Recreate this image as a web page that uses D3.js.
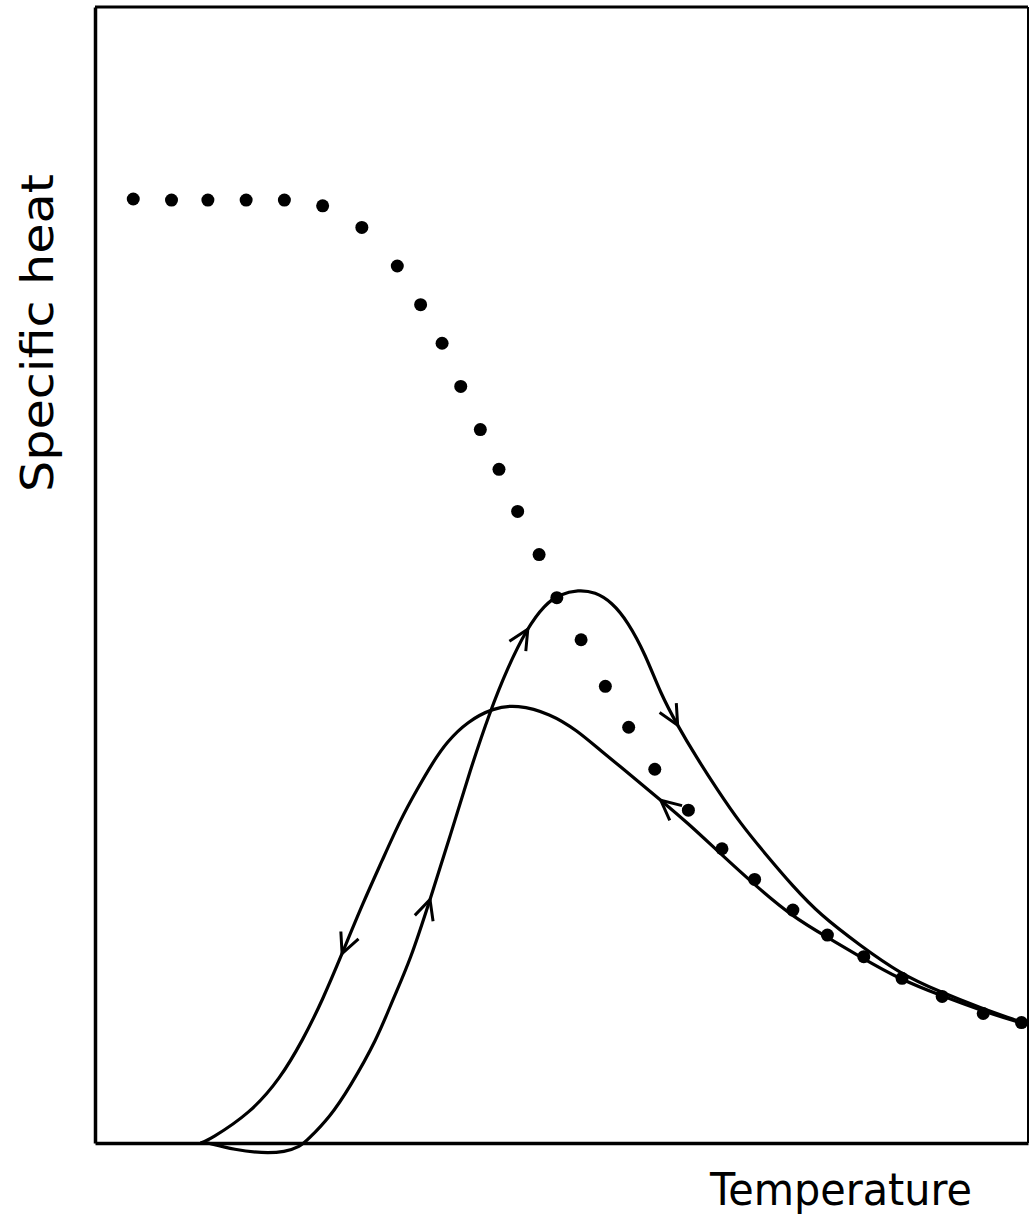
<!DOCTYPE html>
<html>
<head>
<meta charset="utf-8">
<script src="https://cdn.jsdelivr.net/npm/d3@7"></script>
<style>
  body { margin: 0; background: #fff; }
  svg { display: block; }
  .axis-label { font-family: "DejaVu Sans", sans-serif; font-size: 44px; fill: #000; }
</style>
</head>
<body>
<div id="chart"></div>
<script>
// Specific heat vs temperature: measured points plus heating / cooling loop

// measured points (temperature, specific heat), arbitrary units 0-100
const pointT = [4.1, 8.2, 12.1, 16.2, 20.3, 24.4, 28.6, 32.4, 34.9, 37.2, 39.2, 41.3, 43.3, 45.3, 47.6,
                49.5, 52.1, 54.7, 57.2, 60.0, 63.6, 67.2, 70.7, 74.8, 78.5, 82.4, 86.5, 90.8, 95.2, 99.3];
const pointC = [83.1, 83.0, 83.0, 83.0, 83.0, 82.5, 80.6, 77.2, 73.8, 70.4, 66.6, 62.8, 59.3, 55.6, 51.8,
                48.0, 44.3, 40.2, 36.6, 32.9, 29.3, 25.9, 23.2, 20.5, 18.3, 16.4, 14.5, 12.9, 11.4, 10.6];

// heating curve, in order of rising temperature
const heatT = [12.1, 15.0, 17.9, 20.4, 22.0, 22.7, 25.2, 27.3, 30.2, 31.9, 33.8, 35.9, 38.1, 40.2, 42.3,
               44.2, 46.3, 48.2, 49.8, 51.8, 53.6, 55.4, 57.1, 59.0, 60.6, 62.4, 64.5, 66.7, 69.1, 72.0,
               74.8, 77.7, 82.0, 86.3, 90.6, 94.9, 99.1, 100];
const heatC = [0, -0.6, -0.9, -0.8, -0.3, 0.2, 2.3, 4.9, 9.1, 12.6, 16.1, 21.4, 27.1, 32.8, 37.9,
               41.8, 45.3, 47.4, 48.3, 48.7, 48.5, 47.6, 45.9, 43.0, 39.6, 36.8, 33.9, 31.1, 28.2, 25.3,
               22.6, 20.1, 17.4, 14.9, 13.3, 11.9, 10.7, 10.4];

// cooling curve, in order of falling temperature
const coolT = [100, 99.1, 95.2, 90.6, 86.3, 82.0, 78.5, 74.8, 71.0, 67.0, 63.5, 60.6, 57.7, 54.1, 51.7,
               48.8, 45.2, 42.7, 39.9, 37.7, 36.2, 34.5, 32.7, 30.8, 28.7, 26.5, 24.4, 22.3, 19.8, 16.6,
               12.3, 11.3];
const coolC = [10.4, 10.6, 11.6, 13.0, 14.4, 16.4, 18.1, 19.9, 22.5, 25.5, 28.2, 30.2, 32.2, 34.6, 36.3,
               37.8, 38.6, 38.3, 37.1, 35.3, 33.5, 31.1, 28.4, 24.9, 21.1, 16.7, 12.6, 9.1, 5.6, 2.6,
               0.3, 0];

// indices on each curve where a direction arrow sits
const heatArrows = [11, 16, 25];
const coolArrows = [11, 25];

const WIDTH = 1036;
const HEIGHT = 1225;
const PLOT = { left: 95, right: 1028, top: 7, bottom: 1143 };

const svg = d3.select('#chart')
    .append('svg')
    .attr('width', WIDTH)
    .attr('height', HEIGHT);

const x = d3.scaleLinear().domain([0, 100]).range([PLOT.left, PLOT.right]);
const y = d3.scaleLinear().domain([0, 100]).range([PLOT.bottom, PLOT.top]);

const heat = heatT.map((t, i) => [t, heatC[i]]);
const cool = coolT.map((t, i) => [t, coolC[i]]);
const points = pointT.map((t, i) => [t, pointC[i]]);

// Frame (no ticks on the original)
svg.append('g')
    .attr('transform', `translate(0,${PLOT.bottom})`)
    .call(d3.axisBottom(x).ticks(0).tickSize(0))
    .call(g => g.select('.domain').attr('stroke-width', 3.5));

svg.append('g')
    .attr('transform', `translate(${PLOT.left},0)`)
    .call(d3.axisLeft(y).ticks(0).tickSize(0))
    .call(g => g.select('.domain').attr('stroke-width', 3.5));

svg.append('line')
    .attr('x1', PLOT.left).attr('x2', PLOT.right)
    .attr('y1', PLOT.top).attr('y2', PLOT.top)
    .attr('stroke', '#000').attr('stroke-width', 3);

svg.append('line')
    .attr('x1', PLOT.right).attr('x2', PLOT.right)
    .attr('y1', PLOT.top).attr('y2', PLOT.bottom)
    .attr('stroke', '#000').attr('stroke-width', 2);

// Curves (smoothed through the traced points)
const line = d3.line()
    .x(d => x(d[0]))
    .y(d => y(d[1]))
    .curve(d3.curveBasis);

function drawCurve(curve, arrowIdx) {
    const path = svg.append('path')
        .datum(curve)
        .attr('fill', 'none')
        .attr('stroke', '#000')
        .attr('stroke-width', 3.2)
        .attr('d', line);

    // open arrowheads, snapped to the drawn path, pointing along it
    const node = path.node();
    const total = node.getTotalLength();
    arrowIdx.forEach(i => {
        const tx = x(curve[i][0]), ty = y(curve[i][1]);
        let best = 0, bestD = Infinity;
        for (let l = 0; l <= total; l += 1) {
            const q = node.getPointAtLength(l);
            const d = (q.x - tx) ** 2 + (q.y - ty) ** 2;
            if (d < bestD) { bestD = d; best = l; }
        }
        const p = node.getPointAtLength(best);
        const a = node.getPointAtLength(Math.max(0, best - 4));
        const b = node.getPointAtLength(Math.min(total, best + 4));
        const ang = Math.atan2(b.y - a.y, b.x - a.x);
        const arm = 22;
        const spread = 0.45;
        const a1 = ang + Math.PI - spread;
        const a2 = ang + Math.PI + spread;
        svg.append('path')
            .attr('fill', 'none')
            .attr('stroke', '#000')
            .attr('stroke-width', 3)
            .attr('d', `M${p.x + arm * Math.cos(a1)},${p.y + arm * Math.sin(a1)} L${p.x},${p.y} L${p.x + arm * Math.cos(a2)},${p.y + arm * Math.sin(a2)}`);
    });
}
drawCurve(heat, heatArrows);
drawCurve(cool, coolArrows);

// Measured points
svg.append('g')
    .selectAll('circle')
    .data(points)
    .join('circle')
    .attr('cx', d => x(d[0]))
    .attr('cy', d => y(d[1]))
    .attr('r', 6.5)
    .attr('fill', '#000');

// Axis labels
svg.append('text')
    .attr('class', 'axis-label')
    .attr('x', 841)
    .attr('y', 1205)
    .attr('text-anchor', 'middle')
    .attr('textLength', 262)
    .attr('lengthAdjust', 'spacingAndGlyphs')
    .text('Temperature');

svg.append('text')
    .attr('class', 'axis-label')
    .attr('transform', 'translate(53,333) rotate(-90)')
    .attr('text-anchor', 'middle')
    .attr('textLength', 318)
    .attr('lengthAdjust', 'spacingAndGlyphs')
    .text('Specific heat');
</script>
</body>
</html>
